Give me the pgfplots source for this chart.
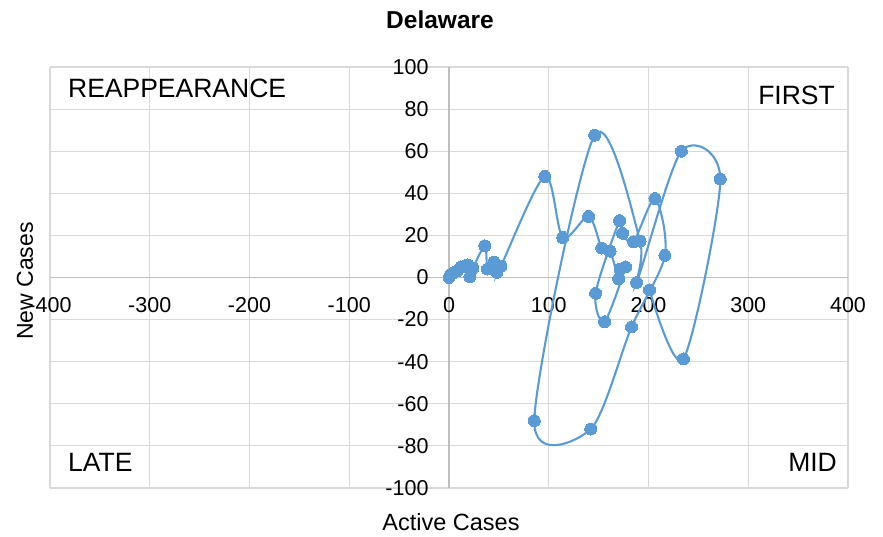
\documentclass[border=0pt]{standalone}
\usepackage{fontspec}
\setmainfont{Liberation Sans}
\usepackage{pgfplots}
\pgfplotsset{compat=1.18}
\definecolor{ser}{HTML}{5B9BD5}
\definecolor{grd}{HTML}{D9D9D9}
\definecolor{axl}{HTML}{BFBFBF}
\begin{document}
\begin{tikzpicture}[x=1pt,y=1pt]
\useasboundingbox (0,0) rectangle (883,537);
\begin{axis}[
  at={(50pt,49pt)}, anchor=south west,
  scale only axis, width=798pt, height=421pt,
  xmin=-400, xmax=400, ymin=-100, ymax=100,
  axis lines=middle,
  axis line style={-, draw=axl, line width=1.3pt},
  grid=major,
  major grid style={draw=grd, line width=1.1pt},
  xtick={-400,-300,...,400},
  ytick={-100,-80,...,100},
  xticklabels={-400,-300,-200,-100,0,100,200,300,400},
  yticklabels={-100,-80,-60,-40,-20,0,20,40,60,80,100},
  hide obscured x ticks=false, hide obscured y ticks=false,
  major tick length=0pt,
  tick style={draw=none},
  ticklabel style={font=\fontsize{21.5}{24}\selectfont, text=black},
  xticklabel style={yshift=-16pt},
  yticklabel style={xshift=-17pt},
  clip=false,
]
\addplot[color=ser, line width=2.1pt, smooth, tension=0.5, mark=*, mark size=6pt,
  mark options={fill=ser, draw=ser, line width=0pt}] coordinates {
(0,0) (1,1) (4,2) (8,3) (12,5) (16,5.5) (19,6) (21,0.3) (24,4.5)
(36,15) (38.5,4) (45,7.3) (48,2.5) (52,5.4)
(96,48) (114,19) (140,29) (153,14) (161.5,12.5)
(170,-0.6) (171.5,4) (177,5) (156,-21) (147,-7.5)
(171,27) (174,21) (185,17) (206.5,37.5) (216.5,10.5)
(183,-23.5) (142,-72) (85.5,-68) (146,67.6)
(191.5,17.3) (188,-2.4) (233,60) (272,46.8) (235,-38.7) (201,-5.9)
};
\node[anchor=west, inner sep=0pt, font=\fontsize{26.5}{30}\selectfont] at (axis cs:-382,90) {REAPPEARANCE};
\node[anchor=east, inner sep=0pt, font=\fontsize{26.5}{30}\selectfont] at (axis cs:387,86.5) {FIRST};
\node[anchor=west, inner sep=0pt, font=\fontsize{26.5}{30}\selectfont] at (axis cs:-382,-88) {LATE};
\node[anchor=east, inner sep=0pt, font=\fontsize{26.5}{30}\selectfont] at (axis cs:389,-88) {MID};
\end{axis}
\node[font=\bfseries\fontsize{24.5}{28}\selectfont] at (440,517) {Delaware};
\node[font=\fontsize{23.5}{27}\selectfont] at (451,15) {Active Cases};
\node[rotate=90, font=\fontsize{23}{27}\selectfont] at (25,256) {New Cases};
\end{tikzpicture}
\end{document}
